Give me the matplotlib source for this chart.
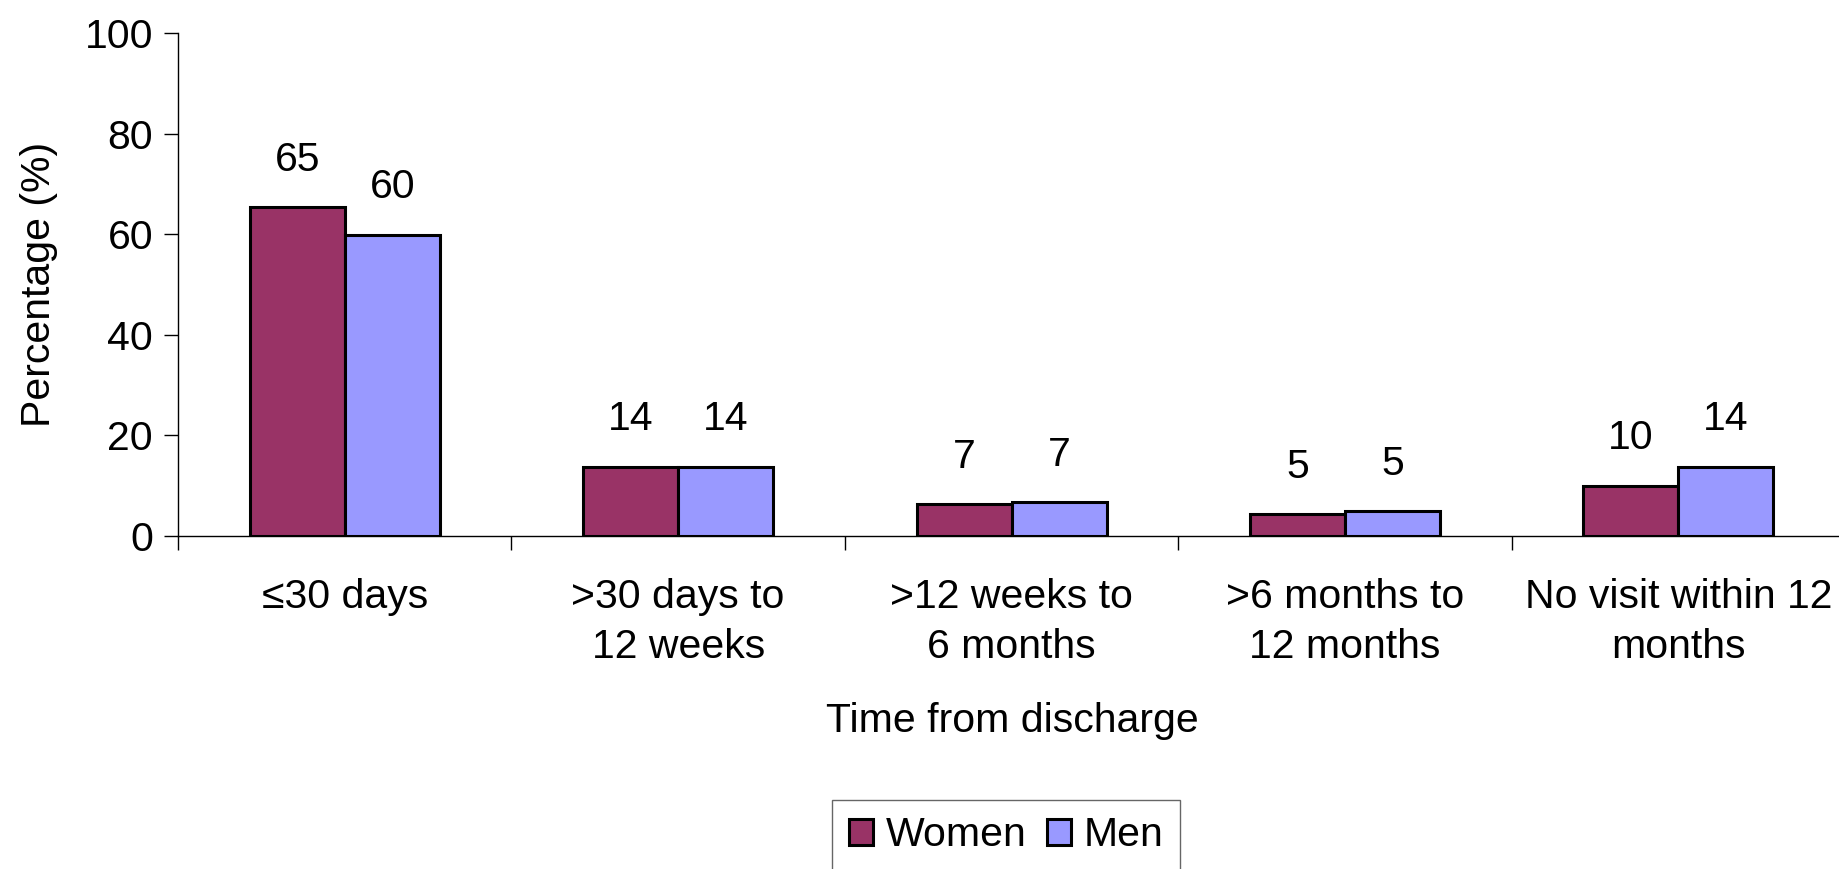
import numpy as np
from matplotlib import pyplot as plt

plt.rcParams['font.family'] = ['Liberation Sans', 'DejaVu Sans']

categories = ['\u226430 days', '>30 days to\n12 weeks', '>12 weeks to\n6 months',
              '>6 months to\n12 months', 'No visit within 12\nmonths']
women = [65.4, 13.8, 6.3, 4.4, 10.0]
men = [59.9, 13.8, 6.8, 5.0, 13.8]
women_labels = ['65', '14', '7', '5', '10']
men_labels = ['60', '14', '7', '5', '14']

fs = 29.5
fig = plt.figure(figsize=(18.39, 8.69), dpi=100)
ax = fig.add_axes([0.0968, 0.3832, 0.9065, 0.5788])

x = np.arange(len(categories))
w = 0.285
b1 = ax.bar(x - w / 2, women, w, color='#993366', edgecolor='black', linewidth=2.2, label='Women')
b2 = ax.bar(x + w / 2, men, w, color='#9999FF', edgecolor='black', linewidth=2.2, label='Men')

for bars, labs in ((b1, women_labels), (b2, men_labels)):
    for bar, lab in zip(bars, labs):
        ax.annotate(lab, (bar.get_x() + bar.get_width() / 2, bar.get_height()),
                    xytext=(0, 34), textcoords='offset points',
                    ha='center', va='center', fontsize=fs)

ax.set_xlim(-0.5, 4.5)
ax.set_ylim(0, 100)
ax.set_yticks([0, 20, 40, 60, 80, 100])
ax.tick_params(axis='y', labelsize=fs, length=10, width=1, direction='out', pad=8)

# category boundaries get the ticks, labels sit at centres
ax.set_xticks(np.arange(-0.5, 5, 1))
ax.set_xticklabels([])
ax.tick_params(axis='x', which='major', length=10, width=1, direction='out')
ax.set_xticks(x, minor=True)
ax.set_xticklabels(categories, minor=True, fontsize=fs, linespacing=1.4)
ax.tick_params(axis='x', which='minor', length=0, pad=30)

for s in ['top', 'right']:
    ax.spines[s].set_visible(False)
ax.spines['left'].set_linewidth(1)
ax.spines['bottom'].set_linewidth(1)

ax.set_ylabel('Percentage (%)', fontsize=fs, labelpad=19)
fig.text(1012 / 1839, 1 - 721 / 869, 'Time from discharge', fontsize=fs, ha='center', va='center')

leg = fig.legend(loc='center', bbox_to_anchor=(1006 / 1839, 1 - 835 / 869), ncol=2,
                 fontsize=fs, frameon=True, fancybox=False, edgecolor='#404040',
                 handlelength=0.6, handleheight=0.6, handletextpad=0.3,
                 columnspacing=0.5, borderpad=0.4)
leg.get_frame().set_linewidth(1)

fig.savefig('out.png', dpi=100)
